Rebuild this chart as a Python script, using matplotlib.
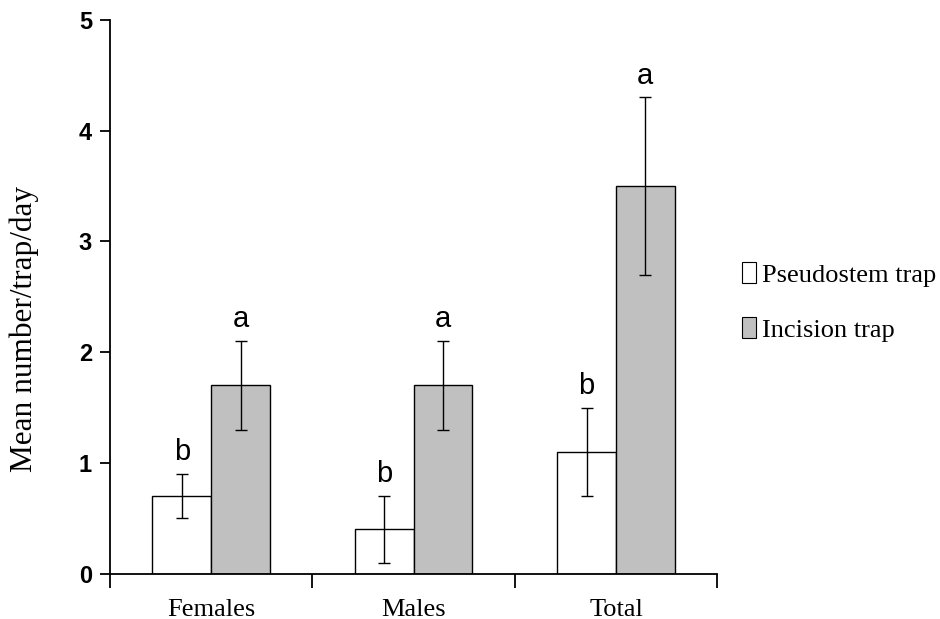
import matplotlib
matplotlib.use('Agg')
import matplotlib.pyplot as plt
import numpy as np
from matplotlib.patches import Patch

# Data
categories = ['Females', 'Males', 'Total']
pseudostem = [0.7, 0.4, 1.1]
pseudostem_err = [0.2, 0.3, 0.4]
incision = [1.7, 1.7, 3.5]
incision_err = [0.4, 0.4, 0.8]
pseudostem_letters = ['b', 'b', 'b']
incision_letters = ['a', 'a', 'a']

fig = plt.figure(figsize=(9.4, 6.19), dpi=100)
ax = fig.add_axes([0.117, 0.073, 0.646, 0.895])

x = np.arange(len(categories))
w = 0.29
err_kw = dict(elinewidth=1.0, capsize=4, capthick=1.0, ecolor='black')
ax.bar(x - w / 2, pseudostem, w, color='white', edgecolor='black', linewidth=1.0,
       yerr=pseudostem_err, error_kw=err_kw)
ax.bar(x + w / 2, incision, w, color='#c0c0c0', edgecolor='black', linewidth=1.0,
       yerr=incision_err, error_kw=err_kw)

# significance letters
for xi, v, e, s in zip(x - w / 2, pseudostem, pseudostem_err, pseudostem_letters):
    ax.text(xi, v + e + 0.07, s, ha='center', va='bottom', fontsize=21,
            family='Liberation Sans')
for xi, v, e, s in zip(x + w / 2, incision, incision_err, incision_letters):
    ax.text(xi, v + e + 0.07, s, ha='center', va='bottom', fontsize=21,
            family='Liberation Sans')

ax.set_xlim(-0.5, 2.5)
ax.set_ylim(0, 5)
ax.spines['top'].set_visible(False)
ax.spines['right'].set_visible(False)
ax.spines['left'].set_linewidth(1.3)
ax.spines['bottom'].set_linewidth(1.3)

ax.set_yticks(range(0, 6))
ax.set_yticklabels([str(i) for i in range(0, 6)], family='Liberation Sans',
                   fontweight='bold', fontsize=17)
ax.tick_params(axis='y', direction='out', length=7, width=1.3, pad=6)

# category boundaries as major ticks, labels on minor ticks
ax.set_xticks([-0.5, 0.5, 1.5, 2.5])
ax.set_xticklabels([])
ax.tick_params(axis='x', which='major', direction='out', length=10, width=1.3)
ax.set_xticks(x, minor=True)
ax.set_xticklabels(categories, minor=True, family='Liberation Serif', fontsize=19)
ax.tick_params(axis='x', which='minor', length=0, pad=18)

ax.set_ylabel('Mean number/trap/day', family='Liberation Serif', fontsize=22.5)
ax.yaxis.set_label_coords(-0.117, 0.442)

handles = [Patch(facecolor='white', edgecolor='black', linewidth=0.8),
           Patch(facecolor='#c0c0c0', edgecolor='black', linewidth=0.8)]
fig.legend(handles, ['Pseudostem trap', 'Incision trap'], loc='center left',
           bbox_to_anchor=(0.764, 0.512), frameon=False,
           prop={'family': 'Liberation Serif', 'size': 19},
           handlelength=0.55, handleheight=0.85, handletextpad=0.2, labelspacing=1.15)

fig.savefig('out.png', dpi=100)
